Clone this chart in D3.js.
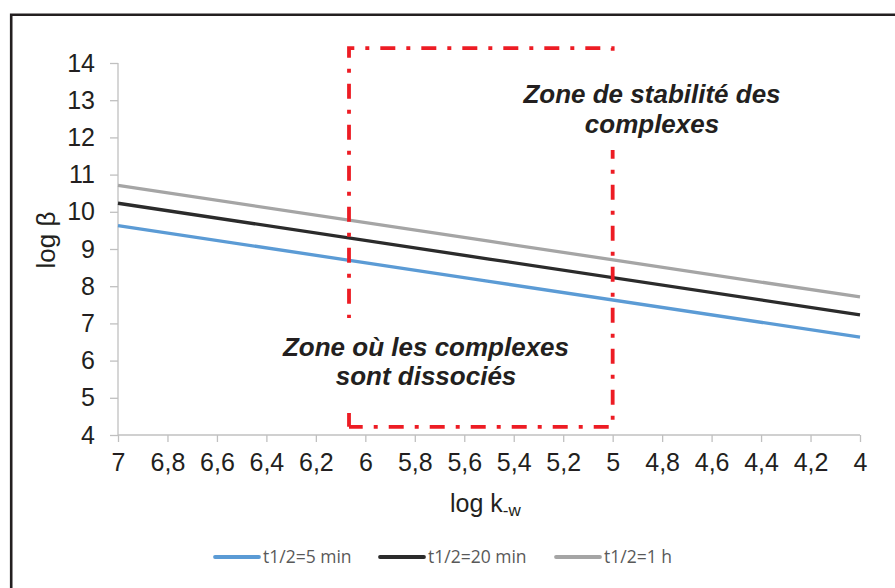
<!DOCTYPE html>
<html><head><meta charset="utf-8">
<script src="https://cdn.jsdelivr.net/npm/d3@7"></script>
<style>body{margin:0;background:#fff}svg{display:block}</style>
</head><body><svg id="c" width="895" height="588"></svg>
<script>
const xTicks = [7,6.8,6.6,6.4,6.2,6,5.8,5.6,5.4,5.2,5,4.8,4.6,4.4,4.2,4];
const yTicks = [4,5,6,7,8,9,10,11,12,13,14];
const logK = [7, 5.5, 4];
const s5min = [9.63, 8.13, 6.63];
const s20min = [10.23, 8.73, 7.23];
const s1h = [10.71, 9.21, 7.71];
const seriesNames = ["t1/2=5 min","t1/2=20 min","t1/2=1 h"];
const seriesColors = ["#5b9bd5","#2b2b2b","#a5a5a5"];
const zone = {x0:6.066, x1:5.0, y0:4.22, y1:14.4};

const svg = d3.select("#c");
const x = d3.scaleLinear().domain([7,4]).range([118,860]);
const y = d3.scaleLinear().domain([4,14]).range([435,63]);
const fmt = d => String(d).replace(".", ",");
const FONT = "'Liberation Sans',Arial,sans-serif";

// outer border (left and top)
svg.append("path").attr("d","M11.2,588V14.7H895").attr("fill","none").attr("stroke","#231f20").attr("stroke-width",2.6);

// axes
const xa = svg.append("g").attr("transform","translate(0,435)")
  .call(d3.axisBottom(x).tickValues(xTicks).tickFormat(fmt).tickSize(7).tickPadding(11));
const ya = svg.append("g").attr("transform","translate(118,0)")
  .call(d3.axisLeft(y).tickValues(yTicks).tickSize(8).tickPadding(15));
[xa,ya].forEach(a=>{
  a.selectAll("path,line").attr("stroke","#c0c0c0").attr("stroke-width",1.3);
  a.selectAll("text").attr("fill","#231f20").style("font-family",FONT).style("font-size","25px");
});
ya.select(".domain").remove();
ya.append("line").attr("x1",0).attr("x2",0).attr("y1",y(14)).attr("y2",y(4)).attr("stroke","#c0c0c0").attr("stroke-width",1.3);
xa.select(".domain").attr("d",`M${x(7)},0H${x(4)}`);

// series
const series = [s5min,s20min,s1h];
const line = d3.line().x((d,i)=>x(logK[i])).y(d=>y(d));
series.forEach((s,k)=>{
  svg.append("path").datum(s).attr("d",line).attr("fill","none")
    .attr("stroke",seriesColors[k]).attr("stroke-width",3.3);
});

// zone rectangle
svg.append("path")
  .attr("d",`M${x(zone.x0)},${y(zone.y0)}V${y(zone.y1)}H${x(zone.x1)}V${y(zone.y0)}H${x(zone.x0)}`)
  .attr("fill","none").attr("stroke","#ed1c24").attr("stroke-width",3.8)
  .attr("stroke-dasharray","15,11,4,11");

// annotation boxes
svg.append("rect").attr("x",505).attr("y",58).attr("width",290).attr("height",92).attr("fill","#fff");
svg.append("rect").attr("x",272).attr("y",318).attr("width",310).attr("height",95).attr("fill","#fff");
const ann = svg.append("g").style("font-family",FONT)
  .style("font-weight","bold").style("font-style","italic").style("font-size","26px")
  .attr("fill","#231f20").attr("text-anchor","middle");
ann.append("text").attr("x",652).attr("y",103).text("Zone de stabilité des");
ann.append("text").attr("x",652).attr("y",133).text("complexes");
ann.append("text").attr("x",426).attr("y",356).text("Zone où les complexes");
ann.append("text").attr("x",426).attr("y",385).text("sont dissociés");

// axis titles
svg.append("text").attr("transform","translate(55,240) rotate(-90)").attr("text-anchor","middle")
  .style("font-family",FONT).style("font-size","26px").attr("fill","#231f20")
  .text("log β");
const xt = svg.append("text").attr("x",450).attr("y",512)
  .style("font-family",FONT).style("font-size","25px").attr("fill","#231f20");
xt.append("tspan").text("log k");
xt.append("tspan").attr("dy",4).style("font-size","17px").text("-w");

// legend
const legX = [215,380,556];
const lg = svg.append("g");
seriesNames.forEach((n,k)=>{
  lg.append("line").attr("x1",legX[k]).attr("x2",legX[k]+44).attr("y1",557).attr("y2",557)
    .attr("stroke",seriesColors[k]).attr("stroke-width",3.8).attr("stroke-linecap","round");
  lg.append("text").attr("x",legX[k]+48).attr("y",563).text(n)
    .style("font-family","'Open Sans',sans-serif").style("font-size","17.5px").attr("fill","#595959");
});
</script></body></html>
